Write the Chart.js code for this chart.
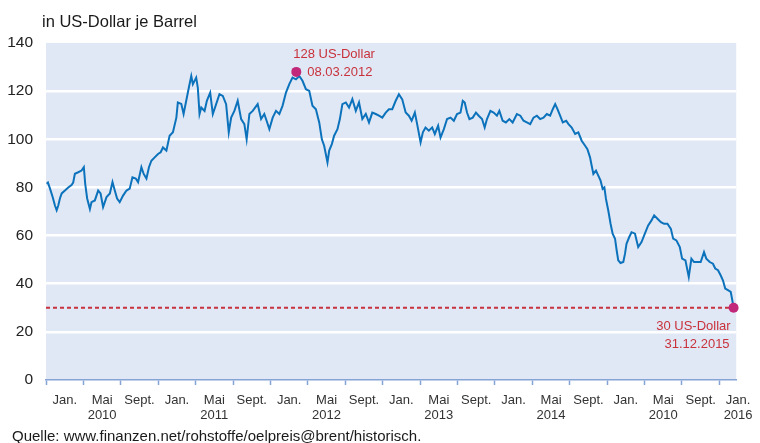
<!DOCTYPE html>
<html lang="de">

<head>
    <meta charset="UTF-8">
    <title>Ölpreis Brent 2010 - 2015</title>
    <script src="https://cdn.jsdelivr.net/npm/chart.js"></script>
    <style>
        * {
            margin: 0;
            padding: 0;
            box-sizing: border-box;
        }

        html,
        body {
            width: 760px;
            height: 443px;
            background: #fff;
            overflow: hidden;
        }
    </style>
</head>

<body>
    <canvas id="oelChart" width="760" height="443"></canvas>

    <script>
        // Zeit in Jahren ab 01.01.2010, Kurs in US-Dollar je Barrel
        const zeit = [
            0.006, 0.017, 0.035, 0.058, 0.078, 0.093, 0.107, 0.122, 0.137, 0.165,
            0.194, 0.223, 0.237, 0.252, 0.281, 0.310, 0.330, 0.342, 0.359, 0.383,
            0.397, 0.426, 0.455, 0.476, 0.498, 0.528, 0.557, 0.580, 0.600, 0.620,
            0.643, 0.672, 0.702, 0.730, 0.754, 0.783, 0.803, 0.832, 0.852, 0.876,
            0.898, 0.919, 0.948, 0.977, 1.000, 1.020, 1.050, 1.078, 1.107, 1.137,
            1.150, 1.180, 1.200, 1.223, 1.246, 1.267, 1.281, 1.310, 1.324, 1.339,
            1.354, 1.383, 1.403, 1.432, 1.455, 1.484, 1.513, 1.542, 1.571, 1.594,
            1.615, 1.643, 1.672, 1.702, 1.730, 1.750, 1.774, 1.803, 1.846, 1.876,
            1.904, 1.924, 1.948, 1.977, 2.006, 2.035, 2.063, 2.093, 2.122, 2.150,
            2.180, 2.209, 2.237, 2.267, 2.296, 2.324, 2.354, 2.383, 2.406, 2.426,
            2.455, 2.470, 2.493, 2.513, 2.542, 2.563, 2.585, 2.615, 2.643, 2.672,
            2.702, 2.730, 2.759, 2.789, 2.817, 2.846, 2.876, 2.904, 2.933, 2.963,
            2.991, 3.020, 3.050, 3.078, 3.107, 3.137, 3.165, 3.189, 3.217, 3.237,
            3.267, 3.287, 3.310, 3.339, 3.368, 3.391, 3.420, 3.441, 3.470, 3.498,
            3.528, 3.557, 3.585, 3.615, 3.635, 3.652, 3.672, 3.693, 3.722, 3.750,
            3.774, 3.803, 3.826, 3.846, 3.876, 3.904, 3.933, 3.954, 3.983, 4.011,
            4.041, 4.070, 4.107, 4.137, 4.165, 4.194, 4.223, 4.252, 4.281, 4.310,
            4.339, 4.368, 4.397, 4.420, 4.441, 4.461, 4.484, 4.507, 4.537, 4.557,
            4.585, 4.615, 4.643, 4.672, 4.702, 4.722, 4.745, 4.759, 4.774, 4.797,
            4.817, 4.837, 4.855, 4.870, 4.884, 4.904, 4.924, 4.942, 4.963, 4.977,
            4.991, 5.011, 5.035, 5.050, 5.063, 5.087, 5.107, 5.137, 5.165, 5.194,
            5.223, 5.252, 5.281, 5.304, 5.333, 5.363, 5.391, 5.420, 5.450, 5.470,
            5.498, 5.528, 5.548, 5.577, 5.606, 5.629, 5.652, 5.681, 5.710, 5.739,
            5.759, 5.789, 5.817, 5.837, 5.861, 5.884, 5.904, 5.924, 5.948, 5.972,
            5.991, 6.000
        ];
        const kurs = [
            81.5, 82, 79.5, 76, 72.5, 70.5, 72.5, 75.5, 77.5, 78.7,
            80, 81, 82, 85.7, 86.3, 87, 88.4, 81.5, 75.4, 71,
            73.9, 74.6, 78.7, 77.5, 71.8, 76, 77.5, 82.2, 78.7, 75.4,
            73.9, 76.6, 78.7, 79.5, 84.2, 83.7, 82.2, 88.4, 85.6, 83.7,
            88.4, 91.1, 92.5, 93.9, 94.6, 96.6, 95.3, 101.5, 102.9, 109,
            115.3, 114.7, 110.5, 116, 121.5, 126.3, 122.9, 125.6, 121.5, 110.5,
            113.2, 111.8, 116, 119.4, 110.5, 114.6, 118.7, 118, 114.6, 102.9,
            109, 111.8, 116, 108.4, 106.3, 100, 110.5, 111.8, 114.6, 108.4,
            110.5, 107.7, 104.2, 109, 111.8, 110.5, 113.9, 119.4, 122.9, 125.6,
            124.9, 126.3, 124.3, 120.8, 120.1, 113.9, 112.5, 107, 100, 97.3,
            90.4, 95.3, 98, 101.5, 104.2, 108.4, 114.6, 115.3, 113.2, 116.7,
            111.8, 115.3, 108.4, 110.5, 107, 111.1, 110.5, 109.8, 109, 111.1,
            112.5, 112.5, 116, 118.7, 116.6, 111.1, 109.8, 107.7, 111.1, 106.3,
            98.7, 102.9, 104.9, 103.6, 104.9, 102.2, 105.6, 100.7, 104.2, 108.4,
            109, 107.7, 110.5, 111.1, 116, 115.3, 111.1, 108.4, 109, 111.1,
            109.8, 108.4, 104.9, 108.4, 111.8, 111.1, 109.8, 111.8, 107.7, 107,
            108.4, 107, 110.5, 109.8, 107.7, 107, 106.3, 109, 109.8, 108.4,
            109, 110.5, 109.8, 112.5, 114.6, 112.5, 109.8, 107, 107.7, 106.3,
            104.9, 102.2, 102.9, 99.4, 97.3, 95.9, 92.5, 89.1, 85.6, 87,
            84.9, 82.8, 79.4, 80, 75.2, 70.4, 64.9, 60.8, 58.7, 53.9,
            49.7, 48.6, 49, 52.5, 56.6, 59.4, 61.4, 60.8, 55.2, 57.3,
            60.8, 64.2, 66.3, 68.4, 67, 65.6, 64.9, 64.9, 62.8, 58.7,
            58, 55.2, 50.4, 49.7, 42.8, 50.4, 49, 49, 49, 53.1,
            50.4, 49, 48.3, 46.3, 45.6, 43.5, 41.4, 38, 37.3, 36.6,
            31.8, 30
        ];

        // markierte Punkte: Hoch und letzter Wert
        const markenZeit = [2012.183, 2015.997];
        const markenWerte = [128, 30];
        const markenDaten = ["08.03.2012", "31.12.2015"];

        // Achse: Teilstriche alle 4 Monate, Beschriftung jeweils dazwischen
        const tickMonate = [0, 4, 8, 12, 16, 20, 24, 28, 32, 36, 40, 44, 48, 52, 56, 60, 64, 68, 72];
        const labelMonate = [2, 6, 10, 14, 18, 22, 26, 30, 34, 38, 42, 46, 50, 54, 58, 62, 66, 70, 74];
        const tickLabels = [
            ["Jan."], ["Mai", "2010"], ["Sept."],
            ["Jan."], ["Mai", "2011"], ["Sept."],
            ["Jan."], ["Mai", "2012"], ["Sept."],
            ["Jan."], ["Mai", "2013"], ["Sept."],
            ["Jan."], ["Mai", "2014"], ["Sept."],
            ["Jan."], ["Mai", "2010"], ["Sept."],
            ["Jan.", "2016"]
        ];

        const titel = "in US-Dollar je Barrel";
        const quelle = "Quelle: www.finanzen.net/rohstoffe/oelpreis@brent/historisch.";

        const FONT = '"Liberation Sans", Arial, sans-serif';
        const ROT = "#c8323c";

        const hintergrund = {
            id: "hintergrund",
            beforeDraw(chart) {
                const a = chart.chartArea;
                const ctx = chart.ctx;
                ctx.save();
                ctx.fillStyle = "#e1e8f5";
                ctx.fillRect(a.left, a.top, a.right - a.left, a.bottom - a.top);
                ctx.restore();
            }
        };

        const texte = {
            id: "texte",
            afterDraw(chart) {
                const ctx = chart.ctx;
                ctx.save();
                ctx.textBaseline = "middle";
                ctx.textAlign = "left";
                ctx.fillStyle = "#1a1a1a";
                ctx.font = "16.5px " + FONT;
                ctx.fillText(titel, 42, 22);
                ctx.font = "15px " + FONT;
                ctx.fillText(quelle, 12, 437);

                // Beschriftung der markierten Punkte
                const pts = chart.getDatasetMeta(0).data;
                ctx.fillStyle = ROT;
                ctx.font = "13px " + FONT;
                const p = pts[0];
                ctx.fillText(markenWerte[0] + " US-Dollar", p.x - 3, p.y - 17);
                ctx.fillText(markenDaten[0], p.x + 11, p.y + 1);
                const q = pts[1];
                ctx.textAlign = "right";
                ctx.fillText(markenWerte[1] + " US-Dollar", q.x - 3, q.y + 19);
                ctx.fillText(markenDaten[1], q.x - 4, q.y + 37);
                ctx.restore();
            }
        };

        const ctx = document.getElementById("oelChart").getContext("2d");
        new Chart(ctx, {
            type: "line",
            data: {
                datasets: [
                    {
                        // Punkte oben, damit sie über der Linie liegen
                        data: markenZeit.map((t, i) => ({ x: t, y: markenWerte[i] })),
                        showLine: false,
                        pointRadius: 5,
                        pointBackgroundColor: "#c2287a",
                        pointBorderWidth: 0,
                        clip: false
                    },
                    {
                        data: zeit.map((t, i) => ({ x: 2010 + t, y: kurs[i] })),
                        borderColor: "#0b72bb",
                        borderWidth: 2,
                        pointRadius: 0,
                        tension: 0,
                        fill: false
                    },
                    {
                        data: [{ x: 2010, y: markenWerte[1] }, { x: markenZeit[1], y: markenWerte[1] }],
                        borderColor: ROT,
                        borderWidth: 2,
                        borderDash: [4, 3],
                        pointRadius: 0,
                        fill: false
                    }
                ]
            },
            options: {
                responsive: false,
                devicePixelRatio: 1,
                animation: false,
                layout: {
                    padding: { left: 2, right: 22, top: 43, bottom: 20 }
                },
                plugins: {
                    legend: { display: false },
                    tooltip: { enabled: false }
                },
                scales: {
                    x: {
                        type: "linear",
                        display: false,
                        min: 2010,
                        max: 2016.02
                    },
                    y: {
                        min: 0,
                        max: 140,
                        ticks: {
                            stepSize: 20,
                            padding: 13,
                            color: "#222",
                            font: { size: 15.5, family: FONT }
                        },
                        grid: {
                            color: c => (c.tick && (c.tick.value === 0 || c.tick.value === 140)) ? "rgba(0,0,0,0)" : "#ffffff",
                            lineWidth: 2.5,
                            drawTicks: false
                        },
                        border: { display: false },
                        afterFit: s => { s.width = 44; }
                    },
                    xt: {
                        type: "linear",
                        position: "bottom",
                        min: 0,
                        max: 73.8,
                        weight: 0,
                        afterBuildTicks: s => { s.ticks = tickMonate.map(v => ({ value: v })); },
                        ticks: { display: false },
                        grid: {
                            drawOnChartArea: false,
                            tickLength: 5,
                            tickColor: "#86a3d6",
                            tickWidth: 1.5
                        },
                        border: { color: "#86a3d6", width: 1.5 },
                        afterFit: s => { s.height = 5; }
                    },
                    xl: {
                        type: "linear",
                        position: "bottom",
                        min: 0,
                        max: 73.8,
                        weight: 1,
                        afterBuildTicks: s => { s.ticks = labelMonate.map(v => ({ value: v })); },
                        ticks: {
                            autoSkip: false,
                            maxRotation: 0,
                            padding: 7.5,
                            color: "#333",
                            font: { size: 13, family: FONT, lineHeight: 1.15 },
                            callback: (v, i) => tickLabels[i]
                        },
                        grid: { display: false, drawTicks: false },
                        border: { display: false },
                        afterFit: s => { s.height = 38; }
                    }
                }
            },
            plugins: [hintergrund, texte]
        });
    </script>
</body>

</html>
